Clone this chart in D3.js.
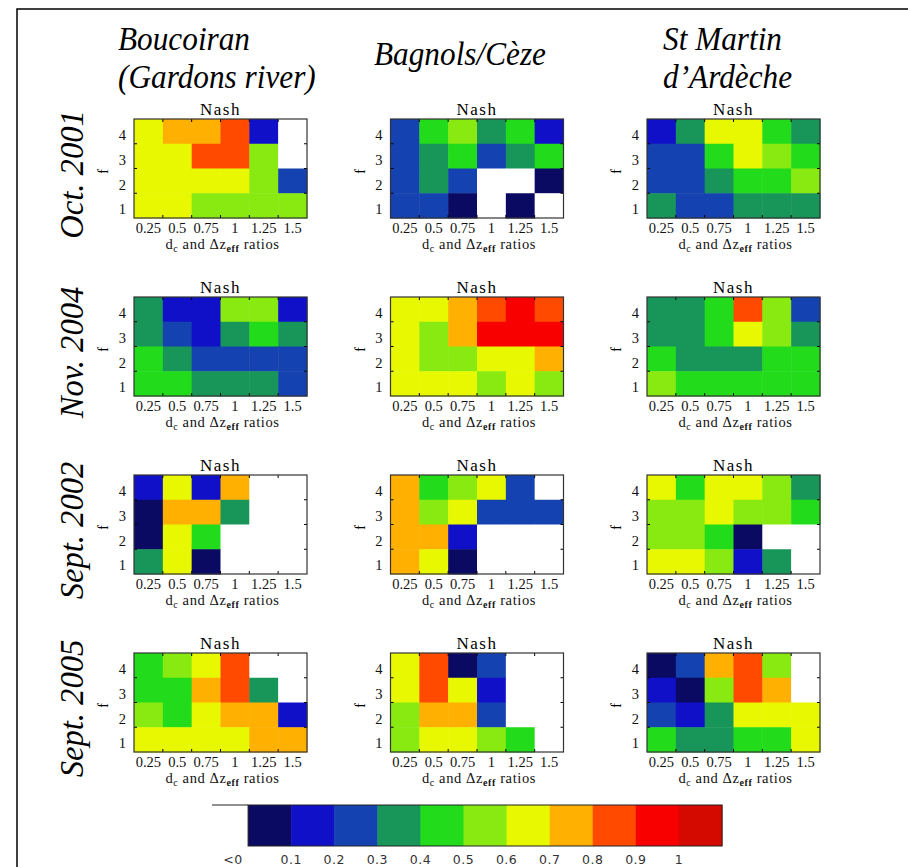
<!DOCTYPE html>
<html>
<head>
<meta charset="utf-8">
<script src="https://cdn.jsdelivr.net/npm/d3@7"></script>
<style>
  body { margin: 0; background: #fff; }
  svg { display: block; }
  svg text { font-family: "Liberation Serif", "Times New Roman", serif; }
  svg text.bar-label { font-family: "DejaVu Sans", sans-serif; }
</style>
</head>
<body>
<div id="vis"></div>
<script>
const width = 908;
const height = 867;

// stations (columns of panels) and flood events (rows of panels)
const stations = ["Boucoiran", "Bagnols", "StMartin"];
const events = ["Oct. 2001", "Nov. 2004", "Sept. 2002", "Sept. 2005"];

// x categories (dc and dz_eff ratios) and y categories (f), f listed top to bottom
const ratios = ["0.25", "0.5", "0.75", "1", "1.25", "1.5"];
const fLevels = [4, 3, 2, 1];

// colour classes of the Nash criterion
const nashBreaks = [0, 0.1, 0.2, 0.3, 0.4, 0.5, 0.6, 0.7, 0.8, 0.9, 1];
const nashColors = ["#ffffff", "#0a0a62", "#1010c8", "#1442b0", "#18965a", "#22dc1c",
  "#88ea10", "#e8f800", "#ffb000", "#ff4a00", "#f80000", "#d40a00"];
const legendLabels = ["<0", "0.1", "0.2", "0.3", "0.4", "0.5", "0.6", "0.7", "0.8", "0.9", "1"];

// Nash values, rows f = 4, 3, 2, 1 ; negative = "<0"
const nashBoucoiranOct2001 = [
  [0.65, 0.75, 0.75, 0.85, 0.15, -0.2],
  [0.65, 0.65, 0.85, 0.85, 0.55, -0.2],
  [0.65, 0.65, 0.65, 0.65, 0.55, 0.25],
  [0.65, 0.65, 0.55, 0.55, 0.55, 0.55]];
const nashBagnolsOct2001 = [
  [0.25, 0.45, 0.55, 0.35, 0.45, 0.15],
  [0.25, 0.35, 0.45, 0.25, 0.35, 0.45],
  [0.25, 0.35, 0.25, -0.2, -0.2, 0.05],
  [0.25, 0.25, 0.05, -0.2, 0.05, -0.2]];
const nashStMartinOct2001 = [
  [0.15, 0.35, 0.65, 0.65, 0.45, 0.35],
  [0.25, 0.25, 0.45, 0.65, 0.55, 0.45],
  [0.25, 0.25, 0.35, 0.45, 0.45, 0.55],
  [0.35, 0.25, 0.25, 0.35, 0.35, 0.35]];
const nashBoucoiranNov2004 = [
  [0.35, 0.15, 0.15, 0.55, 0.55, 0.15],
  [0.35, 0.25, 0.15, 0.35, 0.45, 0.35],
  [0.45, 0.35, 0.25, 0.25, 0.25, 0.25],
  [0.45, 0.45, 0.35, 0.35, 0.35, 0.25]];
const nashBagnolsNov2004 = [
  [0.65, 0.65, 0.75, 0.85, 0.95, 0.85],
  [0.65, 0.55, 0.75, 0.95, 0.95, 0.95],
  [0.65, 0.55, 0.55, 0.65, 0.65, 0.75],
  [0.65, 0.65, 0.65, 0.55, 0.65, 0.55]];
const nashStMartinNov2004 = [
  [0.35, 0.35, 0.45, 0.85, 0.55, 0.25],
  [0.35, 0.35, 0.45, 0.65, 0.55, 0.35],
  [0.45, 0.35, 0.35, 0.35, 0.45, 0.45],
  [0.55, 0.45, 0.45, 0.45, 0.45, 0.45]];
const nashBoucoiranSep2002 = [
  [0.15, 0.65, 0.15, 0.75, -0.2, -0.2],
  [0.05, 0.75, 0.75, 0.35, -0.2, -0.2],
  [0.05, 0.65, 0.45, -0.2, -0.2, -0.2],
  [0.35, 0.65, 0.05, -0.2, -0.2, -0.2]];
const nashBagnolsSep2002 = [
  [0.75, 0.45, 0.55, 0.65, 0.25, -0.2],
  [0.75, 0.55, 0.65, 0.25, 0.25, 0.25],
  [0.75, 0.75, 0.15, -0.2, -0.2, -0.2],
  [0.75, 0.65, 0.05, -0.2, -0.2, -0.2]];
const nashStMartinSep2002 = [
  [0.65, 0.45, 0.65, 0.65, 0.55, 0.35],
  [0.55, 0.55, 0.65, 0.55, 0.55, 0.45],
  [0.55, 0.55, 0.45, 0.05, -0.2, -0.2],
  [0.65, 0.65, 0.55, 0.15, 0.35, -0.2]];
const nashBoucoiranSep2005 = [
  [0.45, 0.55, 0.65, 0.85, -0.2, -0.2],
  [0.45, 0.45, 0.75, 0.85, 0.35, -0.2],
  [0.55, 0.45, 0.65, 0.75, 0.75, 0.15],
  [0.65, 0.65, 0.65, 0.65, 0.75, 0.75]];
const nashBagnolsSep2005 = [
  [0.65, 0.85, 0.05, 0.25, -0.2, -0.2],
  [0.65, 0.85, 0.65, 0.15, -0.2, -0.2],
  [0.55, 0.75, 0.75, 0.25, -0.2, -0.2],
  [0.55, 0.65, 0.65, 0.55, 0.45, -0.2]];
const nashStMartinSep2005 = [
  [0.05, 0.25, 0.75, 0.85, 0.55, -0.2],
  [0.15, 0.05, 0.55, 0.85, 0.75, -0.2],
  [0.25, 0.15, 0.35, 0.65, 0.65, 0.65],
  [0.45, 0.35, 0.35, 0.45, 0.45, 0.65]];

const panels = [
  [nashBoucoiranOct2001, nashBagnolsOct2001, nashStMartinOct2001],
  [nashBoucoiranNov2004, nashBagnolsNov2004, nashStMartinNov2004],
  [nashBoucoiranSep2002, nashBagnolsSep2002, nashStMartinSep2002],
  [nashBoucoiranSep2005, nashBagnolsSep2005, nashStMartinSep2005]];

const panelW = 173;
const panelH = 99;

const color = d3.scaleThreshold().domain(nashBreaks).range(nashColors);

const svg = d3.select("#vis").append("svg")
  .attr("width", width)
  .attr("height", height);

// outer frame
svg.append("path")
  .attr("d", `M17,${height} V9 H${width}`)
  .attr("fill", "none")
  .attr("stroke", "#000")
  .attr("stroke-width", 1.5);

const colX = d3.scalePoint().domain(stations).range([134, 647]);
const rowY = d3.scalePoint().domain(events).range([119, 653]);

const x = d3.scaleBand().domain(ratios).range([0, panelW]);
const y = d3.scaleBand().domain(fLevels).range([0, panelH]);

// column headers (tall, narrow italic)
const headerText = [
  { x: 118, y: 50, t: "Boucoiran" },
  { x: 118, y: 88, t: "(Gardons river)" },
  { x: 374, y: 65, t: "Bagnols/Cèze" },
  { x: 663, y: 50, t: "St Martin" },
  { x: 663, y: 88, t: "d’Ardèche" }];
svg.selectAll("text.header")
  .data(headerText)
  .enter()
  .append("text")
  .attr("class", "header")
  .attr("transform", (d) => `translate(${d.x}, ${d.y}) scale(0.92, 1)`)
  .attr("font-style", "italic")
  .attr("font-size", 34)
  .text((d) => d.t);

// row headers
events.forEach((ev) => {
  svg.append("text")
    .attr("font-style", "italic")
    .attr("font-size", 34)
    .attr("text-anchor", "middle")
    .attr("transform", `translate(83, ${rowY(ev) + panelH / 2 + 6}) rotate(-90) scale(0.96, 1)`)
    .text(ev);
});

panels.forEach((row, ri) => {
  row.forEach((grid, ci) => {
    const g = svg.append("g")
      .attr("transform", `translate(${colX(stations[ci])}, ${rowY(events[ri])})`);

    const cells = [];
    grid.forEach((vals, fi) => {
      vals.forEach((v, xi) => cells.push({ f: fLevels[fi], r: ratios[xi], v: v }));
    });

    g.selectAll("rect.cell")
      .data(cells)
      .enter()
      .append("rect")
      .attr("class", "cell")
      .attr("x", (d) => x(d.r))
      .attr("y", (d) => y(d.f))
      .attr("width", x.bandwidth() + 0.5)
      .attr("height", y.bandwidth() + 0.5)
      .attr("fill", (d) => color(d.v));

    // inward ticks at the cell boundaries
    const xb = ratios.slice(1).map((r) => x(r));
    const yb = fLevels.slice(1).map((f) => y(f));
    xb.forEach((px) => {
      g.append("line").attr("x1", px).attr("x2", px).attr("y1", 0).attr("y2", 3).attr("stroke", "#000");
      g.append("line").attr("x1", px).attr("x2", px).attr("y1", panelH).attr("y2", panelH - 3).attr("stroke", "#000");
    });
    yb.forEach((py) => {
      g.append("line").attr("x1", 0).attr("x2", 3).attr("y1", py).attr("y2", py).attr("stroke", "#000");
      g.append("line").attr("x1", panelW).attr("x2", panelW - 3).attr("y1", py).attr("y2", py).attr("stroke", "#000");
    });

    g.append("rect")
      .attr("width", panelW)
      .attr("height", panelH)
      .attr("fill", "none")
      .attr("stroke", "#333")
      .attr("stroke-width", 1.2);

    // x axis labels
    const xAxis = d3.axisBottom(x).tickSize(0).tickPadding(5);
    const gx = g.append("g").attr("transform", `translate(0, ${panelH})`).call(xAxis);
    gx.attr("font-family", null).attr("font-size", null);
    gx.select(".domain").remove();
    gx.selectAll("text")
      .attr("font-size", 14.5)
      .attr("fill", "#111");

    // y axis labels
    const yAxis = d3.axisLeft(y).tickSize(0).tickPadding(8);
    const gy = g.append("g").attr("transform", "translate(0, 4)").call(yAxis);
    gy.attr("font-family", null).attr("font-size", null);
    gy.select(".domain").remove();
    gy.selectAll("text")
      .attr("font-size", 14.5)
      .attr("fill", "#111");

    g.append("text")
      .attr("x", panelW / 2)
      .attr("y", -4)
      .attr("text-anchor", "middle")
      .attr("font-size", 17)
      .attr("letter-spacing", 1.5)
      .text("Nash");

    const xl = g.append("text")
      .attr("x", panelW / 2 + 2)
      .attr("y", panelH + 31)
      .attr("text-anchor", "middle")
      .attr("font-size", 14.5)
      .attr("letter-spacing", 0.6)
      .attr("fill", "#111");
    xl.append("tspan").text("d");
    xl.append("tspan").attr("dy", 3).attr("font-size", 10).text("c");
    xl.append("tspan").attr("dy", -3).text(" and Δz");
    xl.append("tspan").attr("dy", 3).attr("font-size", 10).attr("font-weight", "bold").text("eff");
    xl.append("tspan").attr("dy", -3).text(" ratios");

    g.append("text")
      .attr("transform", `translate(-26, ${panelH / 2 + 3}) rotate(-90)`)
      .attr("text-anchor", "middle")
      .attr("font-size", 14)
      .text("f");
  });
});

// colour bar
const legendX = d3.scaleBand().domain(d3.range(nashColors.length)).range([205, 722]);
const legend = svg.append("g");
legend.selectAll("rect")
  .data(nashColors)
  .enter()
  .append("rect")
  .attr("x", (d, i) => legendX(i))
  .attr("y", 805)
  .attr("width", legendX.bandwidth() + 0.5)
  .attr("height", 41)
  .attr("fill", (d) => d);
legend.append("rect")
  .attr("x", legendX(1))
  .attr("y", 805)
  .attr("width", 722 - legendX(1))
  .attr("height", 41)
  .attr("fill", "none")
  .attr("stroke", "#222")
  .attr("stroke-width", 1);
legend.append("line")
  .attr("x1", 212).attr("x2", legendX(1))
  .attr("y1", 805).attr("y2", 805)
  .attr("stroke", "#222");
legend.selectAll("text")
  .data(legendLabels)
  .enter()
  .append("text")
  .attr("class", "bar-label")
  .attr("x", (d, i) => (i === 0 ? legendX(0) + 28 : legendX(i + 1)))
  .attr("y", 864)
  .attr("text-anchor", "middle")
  .attr("font-size", 12.5)
  .attr("letter-spacing", 0.5)
  .attr("fill", "#333")
  .text((d) => d);
</script>
</body>
</html>
